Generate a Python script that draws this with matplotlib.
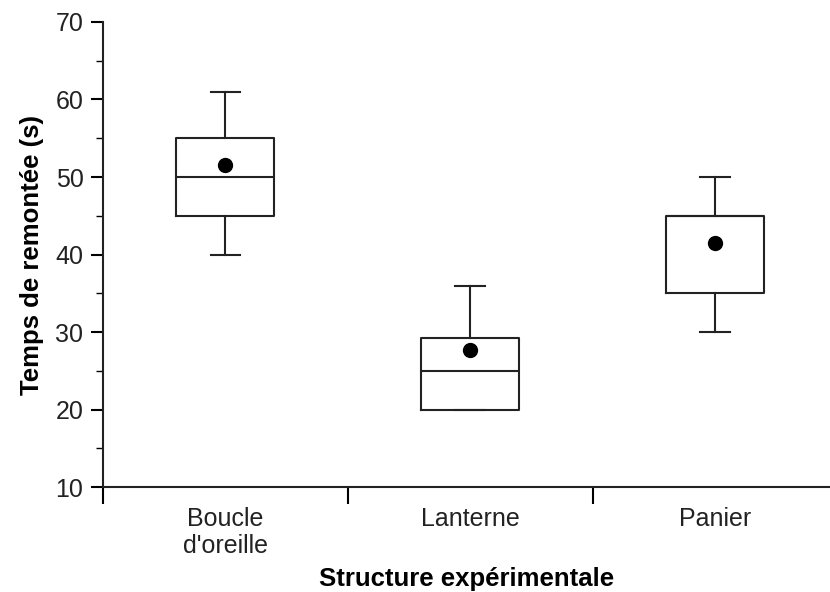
import matplotlib
matplotlib.use("Agg")
import matplotlib.pyplot as plt
from matplotlib.ticker import MultipleLocator

plt.rcParams['font.family'] = ['Liberation Sans', 'DejaVu Sans']

# ---- DATA ----
categories = ["Boucle\nd'oreille", "Lanterne", "Panier"]
whislo = [40, 20, 30]
q1 = [45, 20, 35]
med = [50, 25, 45]
q3 = [55, 29.2, 45]
whishi = [61, 36, 50]
means = [51.5, 27.7, 41.5]

stats = []
for i in range(len(categories)):
    stats.append({
        "label": categories[i],
        "whislo": whislo[i],
        "q1": q1[i],
        "med": med[i],
        "q3": q3[i],
        "whishi": whishi[i],
        "mean": means[i],
        "fliers": [],
    })

# ---- FIGURE ----
fig = plt.figure(figsize=(8.3, 5.92), dpi=100)
ax = fig.add_axes([0.124, 0.177, 0.876, 0.786])

lw = 1.5
ax.bxp(stats, positions=[1, 2, 3], widths=0.4, showmeans=True,
       boxprops=dict(color="#222222", linewidth=lw),
       medianprops=dict(color="#222222", linewidth=lw),
       whiskerprops=dict(color="#222222", linewidth=lw),
       capprops=dict(color="#222222", linewidth=lw),
       capwidths=0.12,
       meanprops=dict(marker="o", markerfacecolor="black",
                      markeredgecolor="black", markersize=10))

ax.set_xlim(0.5, 3.47)
ax.set_ylim(10, 70)
ax.yaxis.set_major_locator(MultipleLocator(10))
ax.yaxis.set_minor_locator(MultipleLocator(5))

# x ticks between categories, labels centred on the boxes
ax.set_xticks([0.5, 1.5, 2.5])
ax.set_xticklabels([])
ax.set_xticks([1, 2, 3], minor=True)
ax.set_xticklabels(categories, minor=True, fontsize=18, color="#222222")
ax.tick_params(axis="x", which="minor", length=0, pad=14)
ax.tick_params(axis="x", which="major", length=12, width=lw, direction="out")
ax.tick_params(axis="y", which="major", length=9, width=lw, labelsize=18,
               pad=5, labelcolor="#222222")
ax.tick_params(axis="y", which="minor", length=5, width=1)

for s in ["top", "right"]:
    ax.spines[s].set_visible(False)
for s in ["left", "bottom"]:
    ax.spines[s].set_linewidth(lw)
    ax.spines[s].set_color("#222222")

ax.set_xlabel("Structure expérimentale", fontsize=18.5, fontweight="bold", labelpad=6)
ax.set_ylabel("Temps de remontée (s)", fontsize=18.5, fontweight="bold", labelpad=8)

fig.savefig("out.png", dpi=100)
